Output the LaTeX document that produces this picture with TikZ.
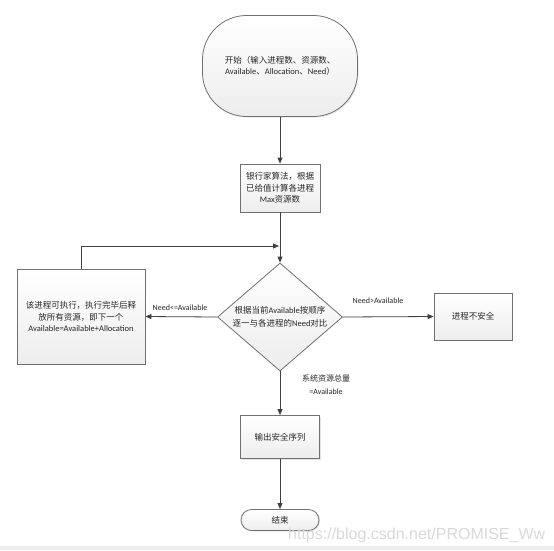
\documentclass[tikz,border=0pt]{standalone}
\usepackage{fontspec}
\setmainfont{Carlito}
\newfontfamily\cjk{Noto Sans CJK SC}
\newfontfamily\wmfont{Liberation Sans}
\usetikzlibrary{arrows.meta,shapes.geometric,shadows}
\definecolor{lc}{HTML}{404040}
\definecolor{bc}{HTML}{707070}
\definecolor{fillb}{HTML}{EDEDED}
\begin{document}
\begin{tikzpicture}[x=1pt,y=-1pt,
  txt/.style={font=\fontsize{8.5}{11.5}\selectfont, align=center, text=black!85},
  box/.style={draw=bc, line width=0.8pt, top color=white, bottom color=fillb,
    inner sep=0pt, txt,
    drop shadow={opacity=0.2, shadow xshift=1pt, shadow yshift=-1pt}},
  arr/.style={-{Triangle[length=6pt,width=5pt]}, draw=lc, line width=0.8pt},
  lbl/.style={font=\fontsize{8}{12}\selectfont, align=center, text=black!85}]
\useasboundingbox (0,0) rectangle (554,550);
\fill[white] (0,0) rectangle (554,550);
\fill[fillb] (0,546) rectangle (554,550);

\node[box, rounded corners=44pt, minimum width=155pt, minimum height=101pt] (start) at (280,66)
  {{\cjk 开始（输入进程数、资源数、}\\Available{\cjk 、}Allocation{\cjk 、}Need{\cjk ）}};
\node[box, minimum width=80pt, minimum height=48pt] (bank) at (280,188)
  {{\cjk 银行家算法，根据}\\{\cjk 已给值计算各进程}\\Max{\cjk 资源数}};
\node[draw=bc, line width=0.8pt, diamond, minimum width=125pt, minimum height=108pt, inner sep=0pt,
  top color=white, bottom color=fillb] (dec) at (280,317) {};
\node[txt, font=\fontsize{8.5}{13}\selectfont] (dect) at (dec.center)
  {{\cjk 根据当前}Available{\cjk 按顺序}\\{\cjk 逐一与各进程的}Need{\cjk 对比}};
\node[box, minimum width=128pt, minimum height=95pt] (exec) at (81,316.5)
  {{\cjk 该进程可执行，执行完毕后释}\\{\cjk 放所有资源，即下一个}\\Available=Available+Allocation};
\node[box, minimum width=78pt, minimum height=47pt] (unsafe) at (473,316.5) {{\cjk 进程不安全}};
\node[box, minimum width=79pt, minimum height=43pt] (out) at (280,437) {{\cjk 输出安全序列}};
\node[box, rounded corners=10.5pt, minimum width=78pt, minimum height=21pt] (end) at (280,520) {{\cjk 结束}};

\coordinate (j) at (280,246);
\draw[arr] (start) -- (bank);
\draw[arr] (bank) -- (dec.north);
\draw[arr, shorten >=1pt] (exec.north) |- (j);
\draw[arr] (dec.west) -- (exec.east);
\node[lbl] (l1) at (180,308) {Need<=Available};
\draw[arr] (dec.east) -- (unsafe.west);
\node[lbl] (l2) at (378,301) {Need>Available};
\draw[arr] (dec.south) -- (out.north);
\node[lbl, font=\fontsize{8}{13}\selectfont] (l3) at (326,384.5) {{\cjk 系统资源总量}\\=Available};
\draw[arr] (out) -- (end);

\node[anchor=base west, inner sep=0pt, text=gray!30, font=\wmfont\fontsize{16}{16}\selectfont] (wm) at (288,539) {https://blog.csdn.net/PROMISE\_Ww};
\end{tikzpicture}
\end{document}
